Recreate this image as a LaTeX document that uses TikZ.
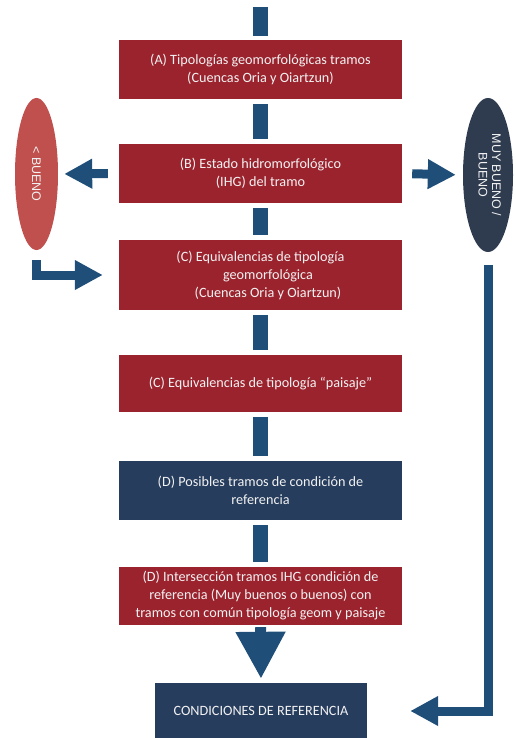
\documentclass[tikz,border=0pt]{standalone}
\usepackage{fontspec}
\setmainfont{Carlito}
\newfontfamily\ellfont{Liberation Sans}
\usetikzlibrary{shapes.geometric,arrows.meta}

\definecolor{boxred}{RGB}{155,35,46}
\definecolor{boxnavy}{RGB}{38,61,94}
\definecolor{barblue}{RGB}{31,78,121}
\definecolor{ellred}{RGB}{192,80,77}
\definecolor{ellnavy}{RGB}{47,60,80}

\tikzset{
  stepbox/.style={rectangle, minimum width=283pt, inner sep=1pt, text=white!95!black,
    align=center, font=\fontsize{14.2}{18}\selectfont},
  redbox/.style={stepbox, fill=boxred},
  navybox/.style={stepbox, fill=boxnavy},
  bar/.style={draw=barblue, line width=15pt, shorten <=5pt, shorten >=5pt},
  blockarrow/.style={draw=barblue, line width=9pt,
    -{Triangle[length=28pt,width=28pt]}},
  verdict/.style={ellipse, inner sep=0pt, text=white!95!black,
    font=\ellfont\fontsize{12.5}{13.5}\selectfont},
}

\begin{document}
\begin{tikzpicture}[x=1pt,y=-1pt]
  \useasboundingbox (0,0) rectangle (516,738);

  \begin{scope}[every node/.style={redbox}]
    \node[minimum height=59pt] (typA) at (260.5,69.5)
      {(A) Tipologías geomorfológicas tramos\\(Cuencas Oria y Oiartzun)};
    \node[minimum height=59pt] (hydro) at (260.5,173.5)
      {(B) Estado hidromorfológico\\(IHG) del tramo};
    \node[minimum height=70pt] (geom) at (260.5,275)
      {(C) Equivalencias de tipología\\\hspace*{15pt}geomorfológica\\\hspace*{15pt}(Cuencas Oria y Oiartzun)};
    \node[minimum height=57pt] (land) at (260.5,383.5)
      {(C) Equivalencias de tipología “paisaje”};
    \node[navybox, minimum height=59pt] (cand) at (260.5,490.5)
      {(D) Posibles tramos de condición de\\referencia};
    \node[minimum height=58pt] (inter) at (260.5,596)
      {(D) Intersección tramos IHG condición de\\referencia (Muy buenos o buenos) con\\tramos con común tipología geom y paisaje};
    \node[navybox, minimum width=212pt, minimum height=56pt] (refcond) at (261,711)
      {CONDICIONES DE REFERENCIA};
  \end{scope}

  \node[verdict, fill=ellred, minimum width=43pt, minimum height=152pt] (lowgood) at (36.5,174)
    {\rotatebox{-90}{< BUENO}};
  \node[verdict, fill=ellnavy, minimum width=50pt, minimum height=154pt] (good) at (488,175)
    {\rotatebox{-90}{\begin{tabular}{@{}c@{}}MUY BUENO /\\BUENO\end{tabular}}};

  \coordinate (top) at (260.5,7);
  \draw[bar, shorten <=0pt, shorten >=4pt] (top) -- (typA.north);
  \foreach \a/\b in {typA/hydro, hydro/geom, geom/land, land/cand, cand/inter}
    \draw[bar] (\a.south) -- (\b.north);

  \draw[blockarrow, shorten <=11pt, shorten >=6pt] (hydro.west) -- (lowgood.east);
  \draw[blockarrow, shorten <=10pt, shorten >=7pt] (hydro.east) -- (good.west);
  \draw[blockarrow, shorten <=10pt, shorten >=16pt] (lowgood.south) |- (geom.west);
  \draw[blockarrow, shorten <=13pt, shorten >=43pt] (good.south) |- (refcond.east);
  \draw[draw=barblue, line width=11pt, shorten <=2pt, shorten >=4pt,
    -{Triangle[length=47pt,width=47pt]}] (inter.south) -- (refcond.north);
\end{tikzpicture}
\end{document}
